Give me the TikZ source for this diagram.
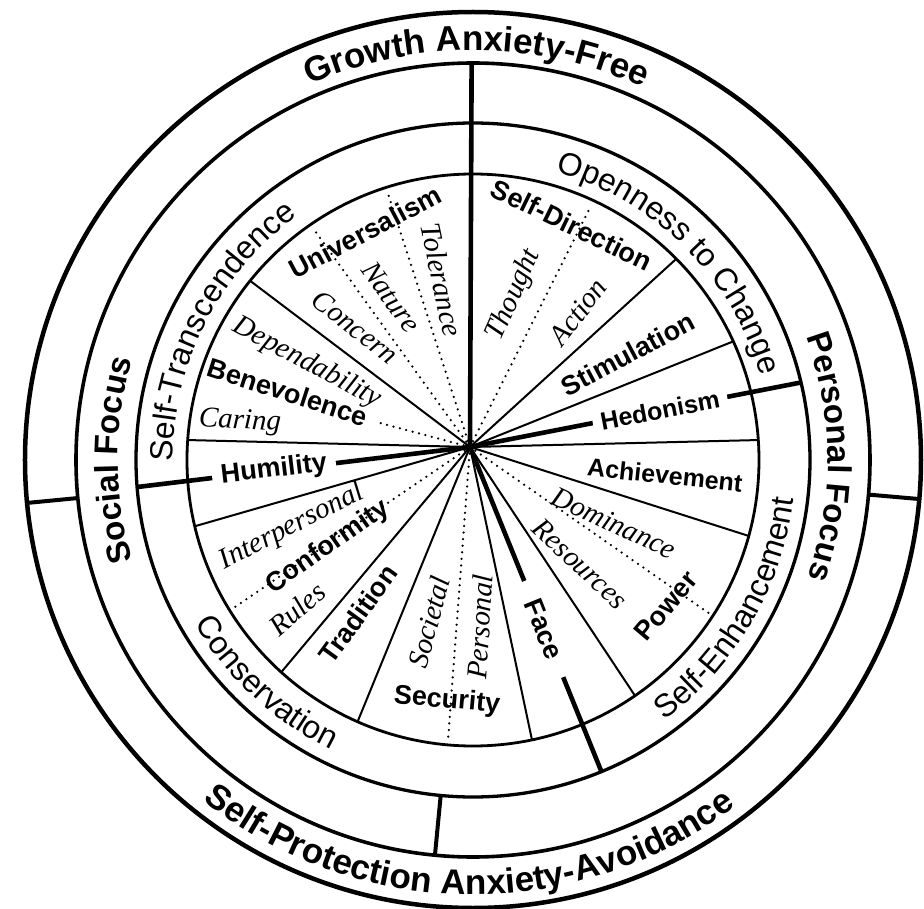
\documentclass[tikz,border=0pt]{standalone}
\usepackage{fontspec}
\usetikzlibrary{decorations.text}
\newfontfamily\wheelsans{Liberation Sans}
\newfontfamily\wheelserif{Liberation Serif}
\newcommand\bandfont{\wheelsans\bfseries\fontsize{35}{40}\selectfont}
\newcommand\focusfont{\wheelsans\bfseries\fontsize{33}{38}\selectfont}
\newcommand\groupfont{\wheelsans\fontsize{32}{36}\selectfont}
\tikzset{
  valuelbl/.style={font=\wheelsans\bfseries\fontsize{#1}{30}\selectfont, inner sep=1pt},
  valuelbl/.default=27,
  facetlbl/.style={font=\wheelserif\itshape\fontsize{29}{32}\selectfont, inner sep=1pt},
  gapped/.style={fill=white, inner ysep=2pt, inner xsep=#1},
  spoke/.style={line width=2pt},
  bigspoke/.style={line width=4.6pt},
  facetline/.style={line width=2.5pt, line cap=round, dash pattern=on 0pt off 6.6pt},
  curved/.style={decorate, decoration={text along path, text align=center, text={#1}}}
}
\begin{document}
\begin{tikzpicture}[x=1pt,y=1pt]
\useasboundingbox (-473,-448) rectangle (451,460);

% rings
\path[draw,line width=4.5pt] (0,0) circle[radius=448];
\path[draw,line width=3.6pt] (0,0) circle[radius=397];
\path[draw,line width=3.3pt] (0,0) circle[radius=337];
\path[draw,line width=2.8pt] (0,0) circle[radius=286];

\coordinate (hub) at (-3,13);

% ends of the spokes
\coordinate (sd-st) at (44.7:286);
\coordinate (st-he) at (24.5:286);
\coordinate (he-ac) at (4.0:286);
\coordinate (ac-po) at (-15.4:286);
\coordinate (po-fa) at (-55.5:286);
\coordinate (fa-se) at (-78.1:286);
\coordinate (se-tr) at (246.2:286);
\coordinate (tr-co) at (227.9:286);
\coordinate (co-hu) at (193.4:286);
\coordinate (hu-be) at (176.0:286);
\coordinate (be-un) at (141.2:286);

\coordinate (top) at (90.2:397);
\coordinate (hedo-end) at (13.3:337);
\coordinate (humi-end) at (184.6:337);
\coordinate (face-end) at (-67.6:337);

\coordinate (concern) at (124.6:281);
\coordinate (nature) at (107.7:281);
\coordinate (thought) at (65.1:281);
\coordinate (caring) at (-93,37);
\coordinate (rules) at (211.7:281);
\coordinate (societal) at (264.9:281);
\coordinate (resources) at (-33.0:281);

\coordinate (gr-in) at (185.5:397);
\coordinate (gr-out) at (185.5:448);
\coordinate (sp-in) at (-5:397);
\coordinate (sp-out) at (-5:448);
\coordinate (fo-in) at (264.5:337);
\coordinate (fo-out) at (264.5:397);

\path[draw,spoke] (hub) -- (sd-st);
\path[draw,spoke] (hub) -- (st-he);
\path[draw,spoke] (hub) -- (he-ac);
\path[draw,spoke] (hub) -- (ac-po);
\path[draw,spoke] (hub) -- (po-fa);
\path[draw,spoke] (hub) -- (fa-se);
\path[draw,spoke] (hub) -- (se-tr);
\path[draw,spoke] (hub) -- (tr-co);
\path[draw,spoke] (hub) -- (co-hu);
\path[draw,spoke] (hub) -- (hu-be);
\path[draw,spoke] (hub) -- (be-un);

\path[draw,facetline] (hub) -- (concern);
\path[draw,facetline] (hub) -- (nature);
\path[draw,facetline] (hub) -- (thought);
\path[draw,facetline] (hub) -- (caring);
\path[draw,facetline] (hub) -- (rules);
\path[draw,facetline] (hub) -- (societal);
\path[draw,facetline] (hub) -- (resources);

\path[draw,bigspoke] (hub) -- (top);
\path[draw,bigspoke] (hub) -- (hedo-end);
\path[draw,bigspoke] (hub) -- (humi-end);
\path[draw,bigspoke] (hub) -- (face-end);

\path[draw,line width=4pt] (gr-in) -- (gr-out);
\path[draw,line width=4pt] (sp-in) -- (sp-out);
\path[draw,line width=4pt] (fo-in) -- (fo-out);

% curved ring texts
\path[curved={|\bandfont|Growth Anxiety-Free}] (149.5:409.5) arc[start angle=149.5, end angle=29.5, radius=409.5];
\path[curved={|\bandfont|Self-Protection Anxiety-Avoidance}] (189.4:434.5) arc[start angle=189.4, end angle=349.4, radius=434.5];
\path[curved={|\focusfont|Social Focus}] (240:355) arc[start angle=240, end angle=120, radius=355];
\path[curved={|\focusfont|Personal Focus}] (60.5:355) arc[start angle=60.5, end angle=-59.5, radius=355];
\path[curved={|\groupfont|Self-Transcendence}] (203:300) arc[start angle=203, end angle=103, radius=300];
\path[curved={|\groupfont|Openness to Change}] (95.1:300) arc[start angle=95.1, end angle=-4.9, radius=300];
\path[curved={|\groupfont|Self-Enhancement}] (-80.3:323) arc[start angle=-80.3, end angle=19.7, radius=323];
\path[curved={|\groupfont|Conservation}] (177.2:323) arc[start angle=177.2, end angle=277.2, radius=323];

% values
\node[valuelbl, rotate=28] (univ) at (-108,228) {Universalism};
\node[valuelbl, rotate=-26] (sdir) at (99,235) {Self-Direction};
\node[valuelbl, rotate=28] (stim) at (155,106) {Stimulation};
\node[valuelbl=25, gapped=8pt, rotate=10.9] (hedo) at (187,50) {Hedonism};
\node[valuelbl=25, rotate=-6] (achv) at (192,-15) {Achievement};
\node[valuelbl, rotate=50] (powr) at (193,-146) {Power};
\node[valuelbl, gapped=21pt, rotate=-68] (face) at (71,-169) {Face};
\node[valuelbl, rotate=-5] (secu) at (-26,-241) {Security};
\node[valuelbl, rotate=54] (trad) at (-115,-154) {Tradition};
\node[valuelbl, rotate=35] (conf) at (-145,-87) {Conformity};
\node[valuelbl, gapped=9pt, rotate=6.85] (humi) at (-199,-10) {Humility};
\node[valuelbl, rotate=-18] (bene) at (-185,68) {Benevolence};

% facets
\node[facetlbl, rotate=-38] (conc) at (-118,133) {Concern};
\node[facetlbl, rotate=-54] (natu) at (-82,163) {Nature};
\node[facetlbl, rotate=-78] (tole) at (-31,180) {Tolerance};
\node[facetlbl, rotate=-28] (depe) at (-166,97) {Dependability};
\node[facetlbl, rotate=-3] (cari) at (-233,38) {Caring};
\node[facetlbl, rotate=66] (thou) at (41,165) {Thought};
\node[facetlbl, rotate=53] (acti) at (105,148) {Action};
\node[facetlbl, rotate=-25] (domi) at (141,-63) {Dominance};
\node[facetlbl, rotate=-43] (reso) at (107,-104) {Resources};
\node[facetlbl, rotate=86] (pers) at (7,-167) {Personal};
\node[facetlbl, rotate=75] (soci) at (-44,-162) {Societal};
\node[facetlbl, rotate=27] (inte) at (-181,-67) {Interpersonal};
\node[facetlbl, rotate=41] (rule) at (-176,-149) {Rules};

\end{tikzpicture}
\end{document}
